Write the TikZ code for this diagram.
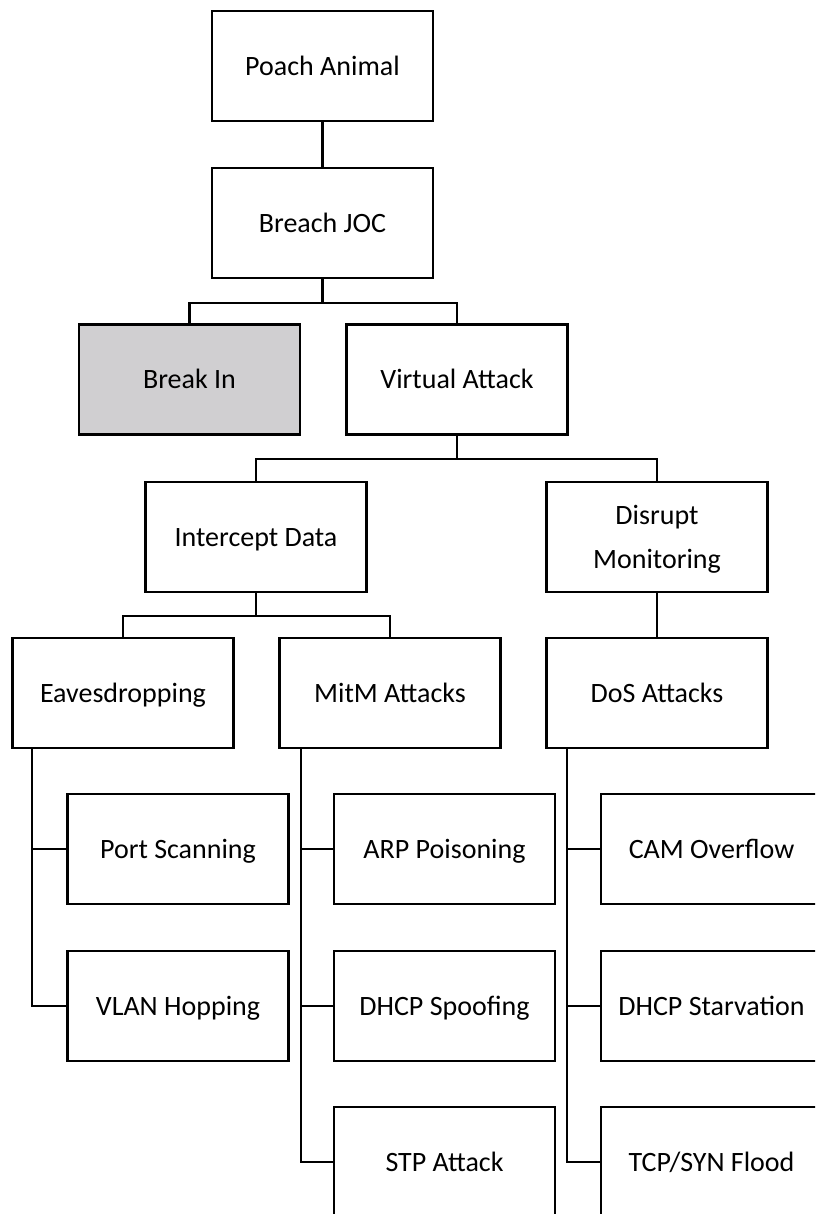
\documentclass[tikz,border=0pt]{standalone}
\usepackage{fontspec}
\setmainfont{Carlito}
\definecolor{greyfill}{RGB}{208,207,209}
\tikzset{
  box/.style={draw=black, line width=1.8pt, fill=white, minimum width=165.75pt, minimum height=82.5pt, inner sep=0pt, align=center, font=\fontsize{21}{33}\selectfont, text height=13.5pt, text depth=0pt},
  twoline/.style={box, text height=, text depth=0pt},
  greybox/.style={box, fill=greyfill},
  conn/.style={draw=black, line width=1.6pt},
}
\begin{document}
\begin{tikzpicture}[x=0.75pt, y=-0.75pt]
\useasboundingbox (0,0) rectangle (815,1214);
\clip (0,0) rectangle (815,1214);
\fill[white] (0,0) rectangle (815,1214);
\node[box] (poach) at (322.5,66) {Poach Animal};
\node[box] (breach) at (322.5,223) {Breach JOC};
\node[greybox] (breakin) at (189.5,379.5) {Break In};
\node[box] (virtual) at (457,379.5) {Virtual Attack};
\node[box] (intercept) at (256,537) {Intercept Data};
\node[twoline] (disrupt) at (657,537) {Disrupt\\Monitoring};
\node[box] (eaves) at (123,693) {Eavesdropping};
\node[box] (mitm) at (390,693) {MitM Attacks};
\node[box] (dos) at (657,693) {DoS Attacks};
\node[box] (port) at (178,849) {Port Scanning};
\node[box] (vlan) at (178,1006) {VLAN Hopping};
\node[box] (arp) at (444.5,849) {ARP Poisoning};
\node[box] (dhcpsp) at (444.5,1006) {DHCP Spoofing};
\node[box] (stp) at (444.5,1162) {STP Attack};
\node[box] (cam) at (711.5,849) {CAM Overflow};
\node[box] (dhcpst) at (711.5,1006) {DHCP Starvation};
\node[box] (tcp) at (711.5,1162) {TCP/SYN Flood};

\draw[conn] (poach.south) -- (breach.north);
\draw[conn] (breach.south) -- ++(0,24) -| (breakin.north);
\draw[conn] (breach.south) -- ++(0,24) -| (virtual.north);
\draw[conn] (virtual.south) -- ++(0,23.5) -| (intercept.north);
\draw[conn] (virtual.south) -- ++(0,23.5) -| (disrupt.north);
\draw[conn] (intercept.south) -- ++(0,23) -| (eaves.north);
\draw[conn] (intercept.south) -- ++(0,23) -| (mitm.north);
\draw[conn] (disrupt.south) -- (dos.north);
\draw[conn] ([xshift=15.75pt]eaves.south west) |- (port.west);
\draw[conn] ([xshift=15.75pt]eaves.south west) |- (vlan.west);
\draw[conn] ([xshift=17.25pt]mitm.south west) |- (arp.west);
\draw[conn] ([xshift=17.25pt]mitm.south west) |- (dhcpsp.west);
\draw[conn] ([xshift=17.25pt]mitm.south west) |- (stp.west);
\draw[conn] ([xshift=16.5pt]dos.south west) |- (cam.west);
\draw[conn] ([xshift=16.5pt]dos.south west) |- (dhcpst.west);
\draw[conn] ([xshift=16.5pt]dos.south west) |- (tcp.west);
\end{tikzpicture}
\end{document}
